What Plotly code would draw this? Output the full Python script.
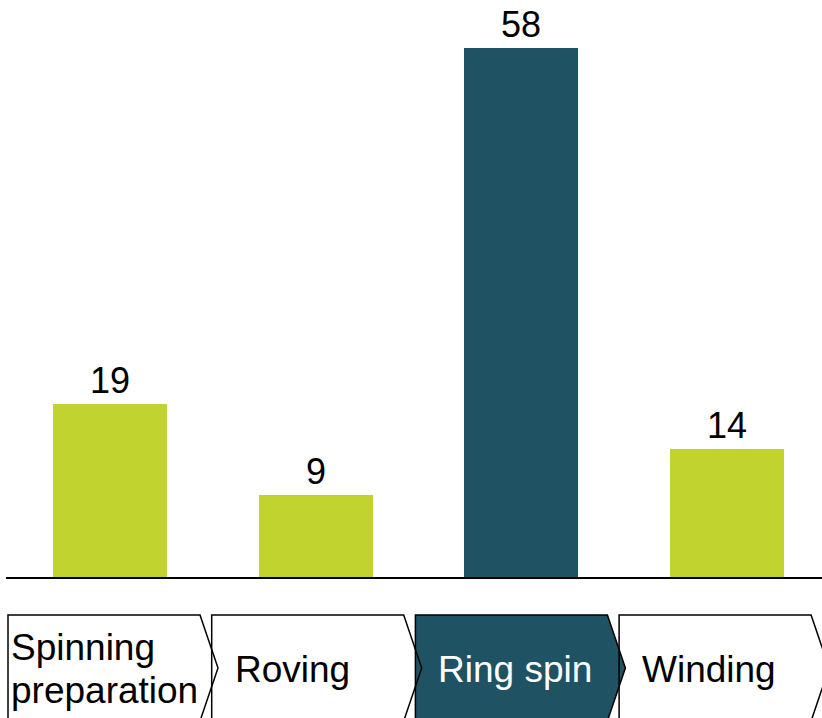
import plotly.graph_objects as go

categories = ["Spinning preparation", "Roving", "Ring spin", "Winding"]
values = [19, 9, 58, 14]
bar_colors = ["#C1D32F", "#C1D32F", "#1F5262", "#C1D32F"]
step_labels = [["Spinning", "preparation"], ["Roving"], ["Ring spin"], ["Winding"]]
step_fill = ["rgba(0,0,0,0)", "rgba(0,0,0,0)", "#1F5262", "rgba(0,0,0,0)"]
step_text_color = ["black", "black", "white", "black"]

W, H = 822, 718
L, R, T, B = 6, 0, 0, 141
PW, PH = W - L - R, H - T - B

def px(x):
    return (x - L) / PW

def py(y):
    return (H - B - y) / PH

FONT = "Liberation Sans, Arial, sans-serif"

fig = go.Figure(go.Bar(
    x=categories, y=values, marker=dict(color=bar_colors, line=dict(width=0)), width=0.554,
    text=[str(v) for v in values], textposition="outside",
    textfont=dict(size=36, color="black", family=FONT),
    cliponaxis=False, hoverinfo="skip",
))

shapes = []
annotations = []
order = [2, 0, 1, 3]
for i in order:
    left = 8 + i * 203.7
    topr = left + 192
    tip = left + 210
    top, mid, bot = 615, 668, 721
    path = (f"M {px(left)},{py(top)} L {px(topr)},{py(top)} L {px(tip)},{py(mid)} "
            f"L {px(topr)},{py(bot)} L {px(left)},{py(bot)} Z")
    shapes.append(dict(type="path", xref="paper", yref="paper", path=path,
                       fillcolor=step_fill[i], line=dict(color="black", width=1.5),
                       layer="above"))
    labs = step_labels[i]
    if len(labs) == 1:
        annotations.append(dict(x=px(left + 21), y=py(669), xref="paper", yref="paper",
                                text=labs[0], showarrow=False, xanchor="left", yanchor="middle",
                                font=dict(size=37, color=step_text_color[i], family=FONT)))
    else:
        for j, lab in enumerate(labs):
            annotations.append(dict(x=px(left + 1), y=py(647 + 43 * j), xref="paper", yref="paper",
                                    text=lab, showarrow=False, xanchor="left", yanchor="middle",
                                    font=dict(size=37, color=step_text_color[i], family=FONT)))

fig.update_layout(
    width=W, height=H, margin=dict(l=L, r=R, t=T, b=B, pad=0),
    paper_bgcolor="white", plot_bgcolor="white", showlegend=False,
    font=dict(family=FONT, size=36, color="black"),
    xaxis=dict(type="category", range=[-0.506, 3.462], showticklabels=False, ticks="",
               showgrid=False, zeroline=False, showline=True, linecolor="black", linewidth=2),
    yaxis=dict(range=[0, 63.26], visible=False, showgrid=False, zeroline=False),
    shapes=shapes, annotations=annotations, bargap=0,
)

fig.write_html("out.html")
